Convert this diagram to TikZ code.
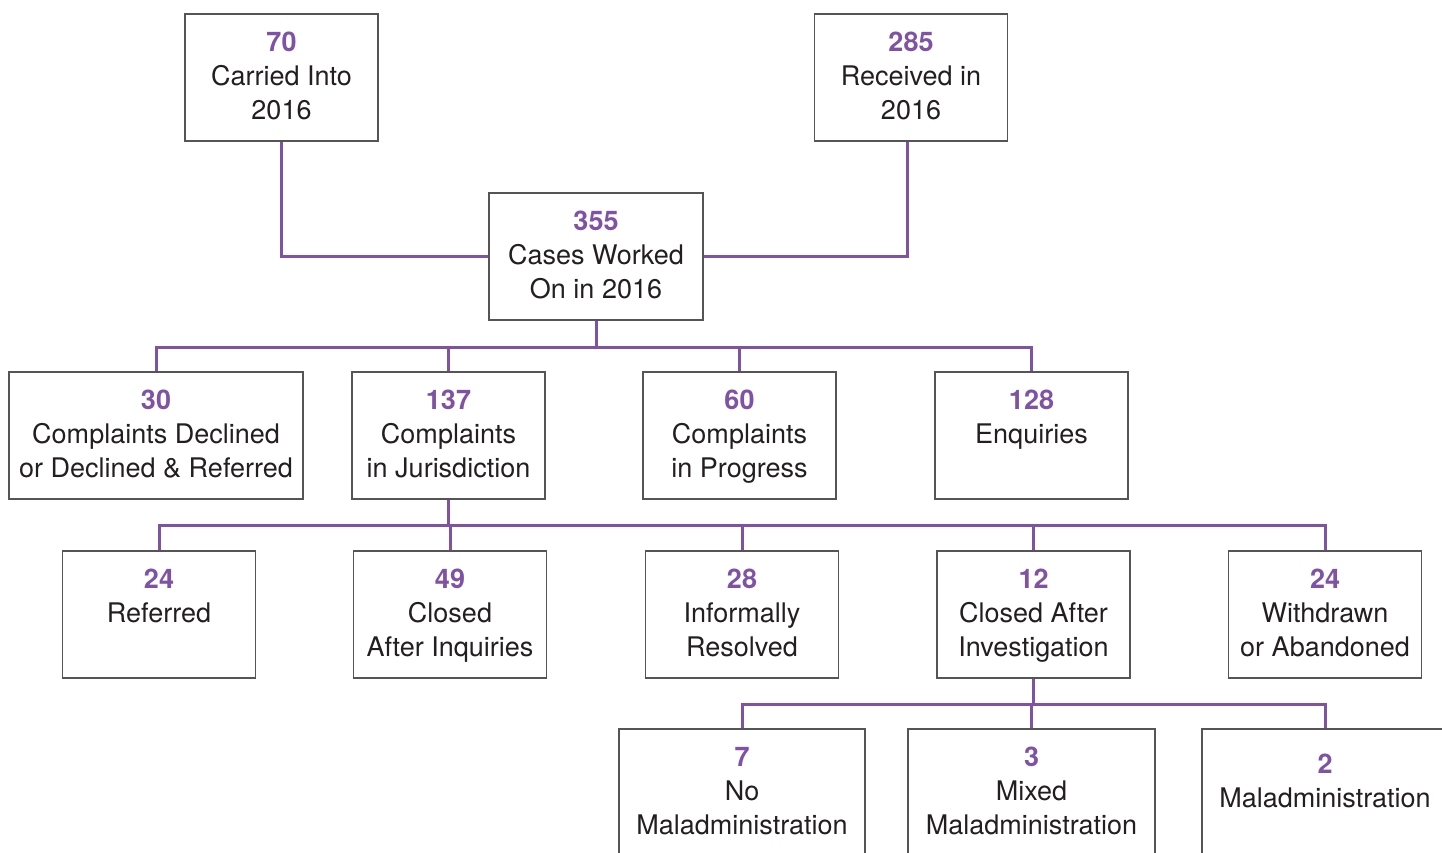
\documentclass[tikz,border=0pt]{standalone}
\usepackage{fontspec}
\setmainfont{TeX Gyre Heros}
\definecolor{casepurple}{RGB}{128,82,164}
\definecolor{boxgray}{RGB}{85,85,85}
\definecolor{casetext}{RGB}{35,31,32}
\newcommand{\casestrut}{\rule[-7.4pt]{0pt}{31.2pt}}
\newcommand{\casenum}[1]{\casestrut{\color{casepurple}\bfseries #1}}

\begin{document}
\begin{tikzpicture}[x=1pt,y=-1pt]
        \tikzset{
        case node/.style={draw=boxgray,line width=1.1pt,minimum width=193pt,minimum height=127pt,inner sep=0,align=center,text=casetext,font=\fontsize{27}{34}\selectfont,execute at end node=\casestrut},
        case link/.style={draw=casepurple,line width=3pt}
        }
        \clip (0,0) rectangle (1442,852);
        \node[case node] (carried) at (281.5,77.5) {\casenum{70}\\Carried Into\\2016};
        \node[case node] (received) at (911,77.5) {\casenum{285}\\Received in\\2016};
        \node[case node,minimum width=214pt] (worked) at (596,256.5) {\casenum{355}\\Cases Worked\\On in 2016};

        \node[case node,minimum width=294pt] (declined) at (156,435.5) {\casenum{30}\\Complaints Declined\\or Declined \& Referred};
        \node[case node] (jurisdiction) at (448.5,435.5) {\casenum{137}\\Complaints\\in Jurisdiction};
        \node[case node] (progress) at (739.5,435.5) {\casenum{60}\\Complaints\\in Progress};
        \node[case node] (enquiries) at (1031.5,435.5) {\casenum{128}\\Enquiries\\};

        \node[case node] (referred) at (159,614.5) {\casenum{24}\\Referred\\};
        \node[case node] (inquiries) at (450,614.5) {\casenum{49}\\Closed\\After Inquiries};
        \node[case node] (informal) at (742,614.5) {\casenum{28}\\Informally\\Resolved};
        \node[case node] (investigation) at (1033.5,614.5) {\casenum{12}\\Closed After\\Investigation};
        \node[case node] (withdrawn) at (1325,614.5) {\casenum{24}\\Withdrawn\\or Abandoned};

        \node[case node,minimum width=246pt] (nomal) at (742,792.5) {\casenum{7}\\No\\Maladministration};
        \node[case node,minimum width=247pt] (mixedmal) at (1031.5,792.5) {\casenum{3}\\Mixed\\Maladministration};
        \node[case node,minimum width=246pt] (mal) at (1325,792.5) {\casenum{2}\\Maladministration\\[-14pt]};

        \draw[case link] (carried.south) |- (worked.west);
        \draw[case link] ([xshift=-4pt]received.south) |- (worked.east);
        \foreach \c in {declined,jurisdiction,progress,enquiries}
            \draw[case link] (worked.south) -- ++(0,27) -| (\c.north);
        \foreach \c in {referred,inquiries,informal,investigation,withdrawn}
            \draw[case link] (jurisdiction.south) -- ++(0,26) -| (\c.north);
        \foreach \c in {nomal,mixedmal,mal}
            \draw[case link] (investigation.south) -- ++(0,26) -| (\c.north);
    \end{tikzpicture}
\end{document}
